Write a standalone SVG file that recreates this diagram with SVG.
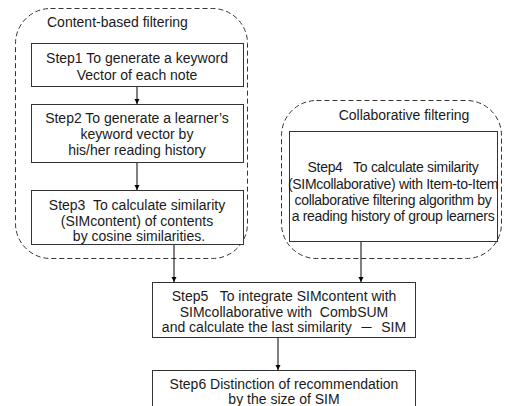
<svg xmlns="http://www.w3.org/2000/svg" width="505" height="406" viewBox="0 0 505 406">
<style>
text{font-family:"Liberation Sans",Arial,"Noto Sans CJK JP",sans-serif;font-size:14px;fill:#1a1a1a;white-space:pre}
.c{text-anchor:middle}
.t{letter-spacing:-0.3px}
.grp{fill:none;stroke:#333;stroke-width:1;stroke-dasharray:5,3}
.box{fill:#fff;stroke:#333;stroke-width:1}
.ln{stroke:#000;stroke-width:1;fill:none;marker-end:url(#ah)}
</style>
<defs>
<marker id="ah" markerWidth="6" markerHeight="6" refX="5" refY="3" orient="auto" markerUnits="userSpaceOnUse">
<path d="M0,0.5 L5,3 L0,5.5 z" fill="#000"/>
</marker>
</defs>
<g id="content-group">
<rect class="grp" x="15.5" y="8.5" width="232" height="250" rx="35" ry="35"/>
<text x="47" y="27">Content-based filtering</text>
</g>
<g id="collab-group">
<rect class="grp" x="281.5" y="100.5" width="220" height="158" rx="35" ry="35"/>
<text class="c" x="404" y="120">Collaborative filtering</text>
</g>
<g id="step1">
<rect class="box" x="31.5" y="43.5" width="212" height="43"/>
<text class="c" x="137" y="63">Step1 To generate a keyword</text>
<text class="c" x="137" y="80">Vector of each note</text>
</g>
<g id="step2">
<rect class="box" x="31.5" y="104.5" width="212" height="58"/>
<text class="c" x="137" y="123">Step2 To generate a learner’s</text>
<text class="c" x="137" y="139">keyword vector by</text>
<text class="c" x="137" y="155">his/her reading history</text>
</g>
<g id="step3">
<rect class="box" x="31.5" y="190.5" width="212" height="54"/>
<text class="c" x="137" y="210">Step3  To calculate similarity</text>
<text class="c" x="137" y="226">(SIMcontent) of contents</text>
<text class="c" x="139" y="241">by cosine similarities.</text>
</g>
<g id="step4">
<rect class="box" x="289.5" y="131.5" width="208" height="110"/>
<text class="c t" x="393" y="172">Step4   To calculate similarity</text>
<text class="c t" x="393" y="189">(SIMcollaborative) with Item-to-Item</text>
<text class="c t" x="393" y="205">collaborative filtering algorithm by</text>
<text class="c t" x="393" y="221">a reading history of group learners</text>
</g>
<g id="step5">
<rect class="box" x="152.5" y="282.5" width="263" height="55"/>
<text class="c" x="284" y="301">Step5   To integrate SIMcontent with</text>
<text class="c" x="284" y="317">SIMcollaborative with  CombSUM</text>
<text class="c" x="284" y="332">and calculate the last similarity  －  SIM</text>
</g>
<g id="step6">
<rect class="box" x="152.5" y="370.5" width="263" height="50"/>
<text class="c" x="284" y="389">Step6 Distinction of recommendation</text>
<text class="c" x="284" y="404">by the size of SIM</text>
</g>
<g id="connectors">
<line class="ln" x1="137" y1="87" x2="137" y2="104"/>
<line class="ln" x1="137" y1="163" x2="137" y2="190"/>
<line class="ln" x1="174" y1="245" x2="174" y2="282"/>
<line class="ln" x1="361" y1="242" x2="361" y2="282"/>
<line class="ln" x1="278" y1="338" x2="278" y2="370"/>
</g>
</svg>
